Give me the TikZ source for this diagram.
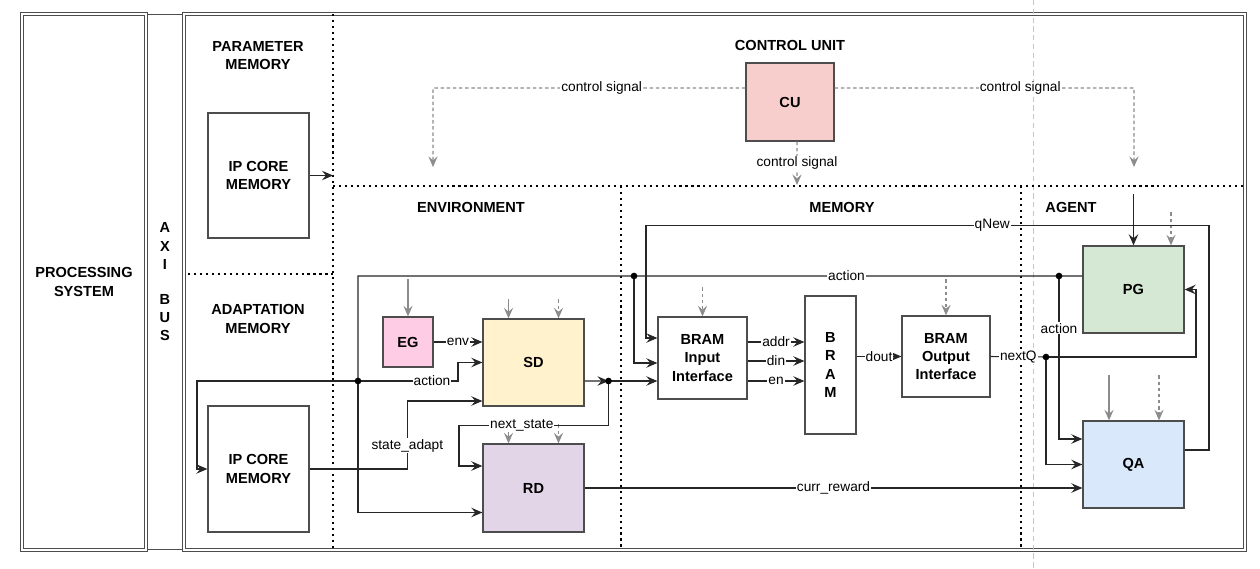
\documentclass[tikz,border=0pt]{standalone}
\usepackage{fontspec}
\setmainfont{Liberation Sans}
\usetikzlibrary{arrows.meta,calc}

\definecolor{boxline}{HTML}{4D4D4D}
\definecolor{wirecol}{HTML}{262626}
\definecolor{ctlgray}{HTML}{8C8C8C}
\definecolor{cufill}{HTML}{F8CECC}
\definecolor{egfill}{HTML}{FFCCE6}
\definecolor{sdfill}{HTML}{FFF2CC}
\definecolor{rdfill}{HTML}{E1D5E7}
\definecolor{pgfill}{HTML}{D5E8D4}
\definecolor{qafill}{HTML}{DAE8FC}

\tikzset{
  hdr/.style={font=\fontsize{8.3}{10.3}\selectfont\bfseries, align=center, inner sep=0pt},
  blk/.style={draw=boxline, line width=0.75pt, fill=white, font=\fontsize{8.3}{10.3}\selectfont\bfseries, align=center, inner sep=0pt},
  frame/.style={draw=boxline, double, double distance=0.7pt, line width=0.6pt, font=\fontsize{8.3}{10.3}\selectfont\bfseries, align=center, inner sep=0pt},
  divider/.style={line width=1.3pt, dash pattern=on 1.2pt off 2.2pt},
  guide/.style={draw=gray!45, line width=0.4pt, dash pattern=on 3pt off 2pt},
  wire/.style={draw=wirecol, line width=0.6pt},
  sig/.style={wire, -{Stealth[length=6.3pt, width=5.4pt, inset=2.3pt]}},
  gsig/.style={draw=ctlgray, line width=0.6pt, -{Stealth[length=6pt, width=5.2pt, inset=2.2pt]}},
  gdash/.style={gsig, dash pattern=on 2pt off 1.5pt},
  lbl/.style={fill=white, inner sep=0.6pt, font=\fontsize{7.8}{9}\selectfont},
  jdot/.style={circle, fill=black, inner sep=0pt, minimum size=3.8pt},
}

\begin{document}
\begin{tikzpicture}[x=0.02cm, y=-0.02cm]
\useasboundingbox (0,0) rectangle (1260,568);

% frames
\node[hdr, draw=boxline, line width=0.6pt, minimum width=0.76cm, minimum height=10.72cm] (axi) at (165,282) {A\\X\\I\\[10pt]B\\U\\S};
\node[frame, minimum width=2.48cm, minimum height=10.72cm] (ps) at (84,282) {PROCESSING\\SYSTEM};
\node[frame, minimum width=21.22cm, minimum height=10.72cm] (core) at (714.5,282) {};

\draw[guide] (1033,0) -- (1033,568);
\draw[divider] (333,14) -- (333,550);
\draw[divider] (188,274) -- (333,274);
\draw[divider] (333,186) -- (1244,186);
\draw[divider] (621,186) -- (621,550);
\draw[divider] (1021,186) -- (1021,550);

% headers
\node[hdr] (hPar) at (258,56) {PARAMETER\\MEMORY};
\node[hdr] (hAda) at (258,319) {ADAPTATION\\MEMORY};
\node[hdr] (hCU) at (790,45) {CONTROL UNIT};
\node[hdr] (hEnv) at (471,207) {ENVIRONMENT};
\node[hdr] (hMem) at (842,207) {MEMORY};
\node[hdr] (hAg) at (1071,207) {AGENT};

% blocks
\node[blk, minimum width=2.02cm, minimum height=2.5cm] (ipP) at (258.5,175.5) {IP CORE\\MEMORY};
\node[blk, minimum width=2.02cm, minimum height=2.52cm] (ipA) at (258.5,469) {IP CORE\\MEMORY};
\node[blk, fill=cufill, minimum width=1.76cm, minimum height=1.56cm] (cu) at (790,102) {CU};
\node[blk, fill=egfill, minimum size=1cm] (eg) at (408,342) {EG};
\node[blk, fill=sdfill, minimum width=2.02cm, minimum height=1.74cm] (sd) at (533.5,362.5) {SD};
\node[blk, fill=rdfill, minimum width=2.02cm, minimum height=1.76cm] (rd) at (533.5,488) {RD};
\node[blk, minimum width=1.78cm, minimum height=1.64cm] (bin) at (702.5,358) {BRAM\\Input\\Interface};
\node[blk, minimum width=1.02cm, minimum height=2.76cm] (bram) at (830.5,365) {B\\R\\A\\M};
\node[blk, minimum width=1.76cm, minimum height=1.62cm] (bout) at (946,356.5) {BRAM\\Output\\Interface};
\node[blk, fill=pgfill, minimum width=2.02cm, minimum height=1.74cm] (pg) at (1133.5,289.5) {PG};
\node[blk, fill=qafill, minimum width=2.02cm, minimum height=1.74cm] (qa) at (1133.5,464.5) {QA};

% junctions and free ends
\coordinate (jPG) at (1059,276);
\coordinate (jMem) at (634,276);
\coordinate (jEnv) at (358,381);
\coordinate (jSD) at (608.5,381);
\coordinate (jQ) at (1046,357);
\coordinate (pOut) at (333,175.5);
\coordinate (csL) at (433,167);
\coordinate (csR) at (1134,167);
\coordinate (csD) at (797,185);

% control signals
\draw[gdash] ([yshift=0.28cm]cu.west) -- node[lbl, pos=0.46]{control signal} (433,88) -- (csL);
\draw[gdash] ([yshift=0.28cm]cu.east) -- node[lbl, pos=0.62]{control signal} (1134,88) -- (csR);
\draw[gdash] ([xshift=0.14cm]cu.south) -- node[lbl]{control signal} (csD);

\draw[sig] (ipP.east) -- (pOut);

% gray inputs on top of blocks
\draw[gsig] ([yshift=0.74cm]eg.north) -- (eg.north);
\draw[gsig] ([xshift=-0.5cm, yshift=0.38cm]sd.north) -- ([xshift=-0.5cm]sd.north);
\draw[gdash] ([xshift=0.5cm, yshift=0.38cm]sd.north) -- ([xshift=0.5cm]sd.north);
\draw[gsig] ([xshift=-0.5cm, yshift=0.38cm]rd.north) -- ([xshift=-0.5cm]rd.north);
\draw[gdash] ([xshift=0.5cm, yshift=0.38cm]rd.north) -- ([xshift=0.5cm]rd.north);
\draw[gdash] ([yshift=0.58cm]bin.north) -- (bin.north);
\draw[gdash] ([yshift=0.72cm]bout.north) -- (bout.north);
\draw[gdash] ([xshift=0.75cm, yshift=0.66cm]pg.north) -- ([xshift=0.75cm]pg.north);
\draw[gsig] ([xshift=-0.49cm, yshift=0.9cm]qa.north) -- ([xshift=-0.49cm]qa.north);
\draw[gdash] ([xshift=0.51cm, yshift=0.9cm]qa.north) -- ([xshift=0.51cm]qa.north);
\draw[sig] ([yshift=1.02cm]pg.north) -- (pg.north);

% environment
\draw[sig] (eg.east) -- node[lbl]{env} (sd.west |- eg.east);
\draw[wire] ([yshift=0.27cm]pg.west) -- (jPG) -- node[lbl]{action} (jMem) -- (358,276) -- (jEnv);
\draw[sig] (jEnv) -- node[lbl, pos=0.74]{action} (458,381) |- (sd.west);
\draw[sig] (jEnv) |- ([yshift=-0.49cm]rd.west);
\draw[sig] (jEnv) -- (197,381) |- (ipA.west);
\draw[sig] (ipA.east) -| node[lbl, pos=0.67]{state\_adapt} ([xshift=-1.5cm, yshift=-0.77cm]sd.west) -- ([yshift=-0.77cm]sd.west);
\draw[sig] ([yshift=-0.37cm]sd.east) -- (jSD);
\draw[sig] (jSD) |- node[lbl, pos=0.79]{next\_state} (459,425.5) |- ([yshift=0.44cm]rd.west);

% memory
\draw[sig] (jSD) -- (bin.west |- jSD);
\draw[sig] (jMem) |- ([yshift=-0.1cm]bin.west);
\draw[sig] ([yshift=0.29cm]qa.east) -| (1209,225.5) -- node[lbl, pos=0.385]{qNew} (646,225.5) |- ([yshift=0.4cm]bin.west);
\draw[sig] ([yshift=0.32cm]bin.east) -- node[lbl]{addr} ([yshift=0.32cm]bin.east -| bram.west);
\draw[sig] ([yshift=-0.06cm]bin.east) -- node[lbl]{din} ([yshift=-0.06cm]bin.east -| bram.west);
\draw[sig] ([yshift=-0.46cm]bin.east) -- node[lbl]{en} ([yshift=-0.46cm]bin.east -| bram.west);
\draw[sig] (bram.east |- bout.west) -- node[lbl]{dout} (bout.west);

% agent
\draw[wire] (bout.east) -- node[lbl]{nextQ} (jQ);
\draw[sig] (jQ) -- (1196,357) |- (pg.east);
\draw[sig] (jQ) |- (qa.west);
\draw[sig] (jPG) |- node[lbl, pos=0.16]{action} ([yshift=0.51cm]qa.west);
\draw[sig] (rd.east) -- node[lbl]{curr\_reward} (qa.west |- rd.east);

% junction dots
\node[jdot] (dPG) at (jPG) {};
\node[jdot] (dMem) at (jMem) {};
\node[jdot] (dEnv) at (jEnv) {};
\node[jdot] (dSD) at (jSD) {};
\node[jdot] (dQ) at (jQ) {};

\end{tikzpicture}
\end{document}
